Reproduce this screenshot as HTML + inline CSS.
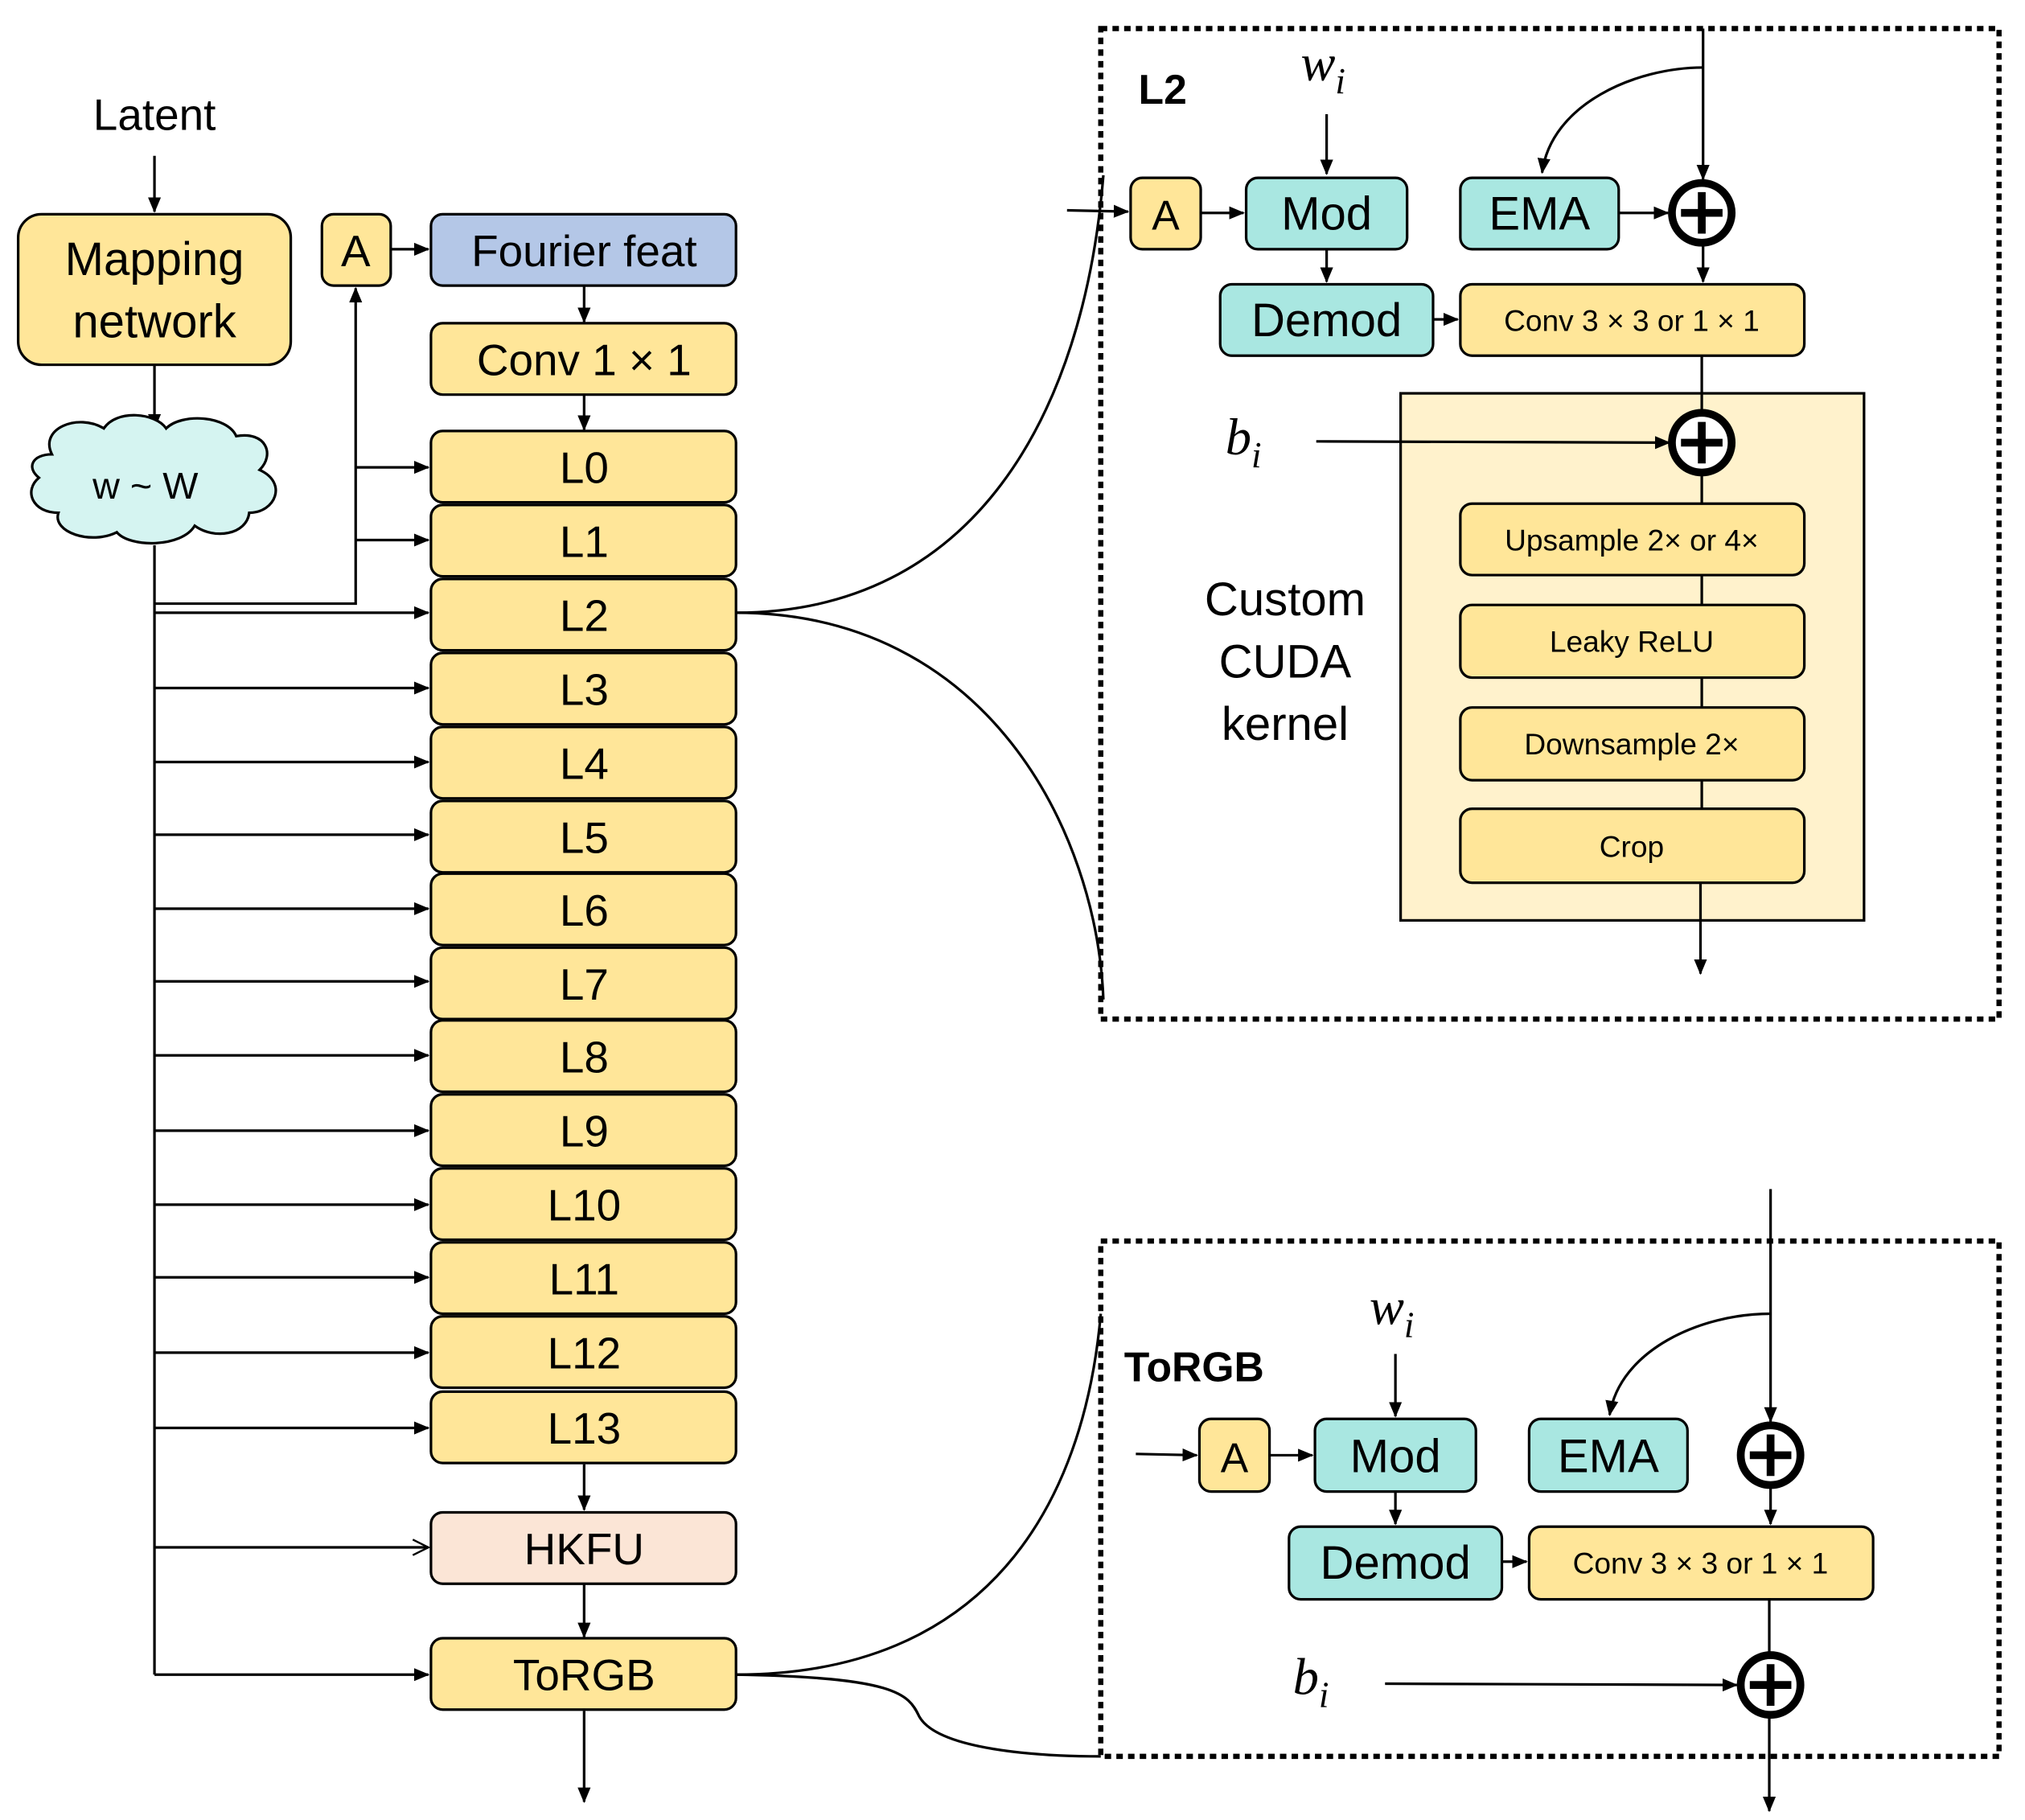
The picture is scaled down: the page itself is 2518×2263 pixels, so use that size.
<!DOCTYPE html>
<html><head><meta charset="utf-8"><style>
html,body{margin:0;padding:0;background:#fff;}
svg{display:block;}
text{font-family:"Liberation Sans",sans-serif;fill:#000;}
.s{font-family:"Liberation Serif",serif;font-style:italic;}
</style></head><body>
<svg width="2518" height="2263" viewBox="0 0 1560 1402" preserveAspectRatio="none" xmlns="http://www.w3.org/2000/svg">
<defs>
<marker id="a" markerUnits="userSpaceOnUse" markerWidth="12" markerHeight="12" refX="11" refY="6" orient="auto"><path d="M0,1 L12,6 L0,11 Z" fill="#000"/></marker>
<marker id="o" markerUnits="userSpaceOnUse" markerWidth="14" markerHeight="14" refX="13" refY="7" orient="auto"><path d="M1,1 L13,7 L1,13" fill="none" stroke="#000" stroke-width="1.5"/></marker>
</defs>
<g stroke="#000" stroke-width="2" fill="none">
<!-- left column arrows -->
<line x1="119" y1="120" x2="119" y2="163" marker-end="url(#a)"/>
<line x1="119" y1="281" x2="119" y2="330" marker-end="url(#a)"/>
<line x1="119" y1="420" x2="119" y2="1290"/>
<polyline points="119,465 274,465 274,222" marker-end="url(#a)"/>
<line x1="274" y1="360" x2="330" y2="360" marker-end="url(#a)"/>
<line x1="274" y1="416" x2="330" y2="416" marker-end="url(#a)"/>
<line x1="119" y1="472" x2="330" y2="472" marker-end="url(#a)"/>
<line x1="119" y1="530" x2="330" y2="530" marker-end="url(#a)"/>
<line x1="119" y1="587" x2="330" y2="587" marker-end="url(#a)"/>
<line x1="119" y1="643" x2="330" y2="643" marker-end="url(#a)"/>
<line x1="119" y1="700" x2="330" y2="700" marker-end="url(#a)"/>
<line x1="119" y1="756" x2="330" y2="756" marker-end="url(#a)"/>
<line x1="119" y1="813" x2="330" y2="813" marker-end="url(#a)"/>
<line x1="119" y1="871" x2="330" y2="871" marker-end="url(#a)"/>
<line x1="119" y1="928" x2="330" y2="928" marker-end="url(#a)"/>
<line x1="119" y1="984" x2="330" y2="984" marker-end="url(#a)"/>
<line x1="119" y1="1042" x2="330" y2="1042" marker-end="url(#a)"/>
<line x1="119" y1="1100" x2="330" y2="1100" marker-end="url(#a)"/>
<line x1="119" y1="1192" x2="330" y2="1192" marker-end="url(#o)"/>
<line x1="119" y1="1290" x2="330" y2="1290" marker-end="url(#a)"/>
<line x1="301" y1="192" x2="330" y2="192" marker-end="url(#a)"/>
<line x1="450" y1="220" x2="450" y2="248" marker-end="url(#a)"/>
<line x1="450" y1="304" x2="450" y2="331" marker-end="url(#a)"/>
<line x1="450" y1="1128" x2="450" y2="1163" marker-end="url(#a)"/>
<line x1="450" y1="1220" x2="450" y2="1261" marker-end="url(#a)"/>
<line x1="450" y1="1318" x2="450" y2="1388" marker-end="url(#a)"/>
<!-- curves -->
<path d="M567,472 C750,472 835,320 850,135"/>
<path d="M567,472 C760,472 845,640 850,770"/>
<path d="M567,1290 C760,1290 835,1160 848,1012"/>
<path d="M567,1290 C690,1292 700,1305 708,1322 C722,1348 800,1353 848,1353"/>
</g>
<!-- left boxes -->
<g stroke="#000" stroke-width="2">
<rect x="14" y="165" width="210" height="116" rx="18" fill="#FFE699"/>
<rect x="248" y="165" width="53" height="55" rx="9" fill="#FFE699"/>
<rect x="332" y="165" width="235" height="55" rx="9" fill="#B4C7E7"/>
<rect x="332" y="249" width="235" height="55" rx="9" fill="#FFE699"/>
<rect x="332" y="332" width="235" height="55" rx="9" fill="#FFE699"/>
<rect x="332" y="389" width="235" height="55" rx="9" fill="#FFE699"/>
<rect x="332" y="446" width="235" height="55" rx="9" fill="#FFE699"/>
<rect x="332" y="503" width="235" height="55" rx="9" fill="#FFE699"/>
<rect x="332" y="560" width="235" height="55" rx="9" fill="#FFE699"/>
<rect x="332" y="617" width="235" height="55" rx="9" fill="#FFE699"/>
<rect x="332" y="673" width="235" height="55" rx="9" fill="#FFE699"/>
<rect x="332" y="730" width="235" height="55" rx="9" fill="#FFE699"/>
<rect x="332" y="786" width="235" height="55" rx="9" fill="#FFE699"/>
<rect x="332" y="843" width="235" height="55" rx="9" fill="#FFE699"/>
<rect x="332" y="900" width="235" height="55" rx="9" fill="#FFE699"/>
<rect x="332" y="957" width="235" height="55" rx="9" fill="#FFE699"/>
<rect x="332" y="1014" width="235" height="55" rx="9" fill="#FFE699"/>
<rect x="332" y="1072" width="235" height="55" rx="9" fill="#FFE699"/>
<rect x="332" y="1165" width="235" height="55" rx="9" fill="#FBE5D6"/>
<rect x="332" y="1262" width="235" height="55" rx="9" fill="#FFE699"/>
<!-- cloud -->
<path fill="#D5F4F1" d="M40,350 C30,330 60,318 80,330 C90,315 120,318 128,330 C140,318 175,320 182,336 C205,332 212,350 200,362 C222,372 212,395 192,395 C190,412 165,416 150,405 C140,422 100,422 90,410 C70,420 40,410 45,395 C25,395 18,378 30,368 C20,360 25,350 40,350 Z"/>
</g>
<g text-anchor="middle" font-size="34">
<text x="119" y="100">Latent</text>
<text x="119" y="212" font-size="36">Mapping</text>
<text x="119" y="260" font-size="36">network</text>
<text x="112" y="384" font-size="29">w ~ W</text>
<text x="274" y="205">A</text>
<text x="450" y="205">Fourier feat</text>
<text x="450" y="289">Conv 1 × 1</text>
<text x="450" y="372">L0</text>
<text x="450" y="429">L1</text>
<text x="450" y="486">L2</text>
<text x="450" y="543">L3</text>
<text x="450" y="600">L4</text>
<text x="450" y="657">L5</text>
<text x="450" y="713">L6</text>
<text x="450" y="770">L7</text>
<text x="450" y="826">L8</text>
<text x="450" y="883">L9</text>
<text x="450" y="940">L10</text>
<text x="450" y="997">L11</text>
<text x="450" y="1054">L12</text>
<text x="450" y="1112">L13</text>
<text x="450" y="1205">HKFU</text>
<text x="450" y="1302">ToRGB</text>
</g>

<!-- top right panel -->
<rect x="1079" y="303" width="357" height="406" fill="#FFF2CC" stroke="#000" stroke-width="2"/>
<rect x="848" y="22" width="692" height="763" fill="none" stroke="#000" stroke-width="4" stroke-dasharray="5 4"/>
<g stroke="#000" stroke-width="2" fill="none">
<line x1="1022" y1="88" x2="1022" y2="134" marker-end="url(#a)"/>
<line x1="822" y1="162" x2="869" y2="163" marker-end="url(#a)"/>
<line x1="925" y1="164" x2="958" y2="164" marker-end="url(#a)"/>
<line x1="1022" y1="192" x2="1022" y2="217" marker-end="url(#a)"/>
<line x1="1104" y1="246" x2="1123" y2="246" marker-end="url(#a)"/>
<line x1="1247" y1="164" x2="1285" y2="164" marker-end="url(#a)"/>
<line x1="1312" y1="22" x2="1312" y2="138" marker-end="url(#a)"/>
<path d="M1312,52 C1260,52 1195,80 1188,133" marker-end="url(#a)"/>
<line x1="1312" y1="188" x2="1312" y2="217" marker-end="url(#a)"/>
<line x1="1311" y1="274" x2="1311" y2="318"/>
<line x1="1014" y1="340" x2="1286" y2="341" marker-end="url(#a)"/>
<line x1="1311" y1="365" x2="1311" y2="388"/>
<line x1="1311" y1="443" x2="1311" y2="466"/>
<line x1="1311" y1="522" x2="1311" y2="545"/>
<line x1="1311" y1="601" x2="1311" y2="623"/>
<line x1="1310" y1="680" x2="1310" y2="750" marker-end="url(#a)"/>
</g>
<g stroke="#000" stroke-width="2">
<rect x="871" y="137" width="54" height="55" rx="9" fill="#FFE699"/>
<rect x="960" y="137" width="124" height="55" rx="9" fill="#A9E7E1"/>
<rect x="940" y="219" width="164" height="55" rx="9" fill="#A9E7E1"/>
<rect x="1125" y="137" width="122" height="55" rx="9" fill="#A9E7E1"/>
<rect x="1125" y="219" width="265" height="55" rx="9" fill="#FFE699"/>
<rect x="1125" y="388" width="265" height="55" rx="9" fill="#FFE699"/>
<rect x="1125" y="466" width="265" height="56" rx="9" fill="#FFE699"/>
<rect x="1125" y="545" width="265" height="56" rx="9" fill="#FFE699"/>
<rect x="1125" y="623" width="265" height="57" rx="9" fill="#FFE699"/>
</g>
<g stroke="#000" stroke-width="6" fill="#fff">
<circle cx="1311" cy="164" r="23"/>
<circle cx="1311" cy="341" r="23"/>
</g>
<g stroke="#000" stroke-width="6">
<line x1="1295" y1="164" x2="1327" y2="164"/><line x1="1311" y1="148" x2="1311" y2="180"/>
<line x1="1295" y1="341" x2="1327" y2="341"/><line x1="1311" y1="325" x2="1311" y2="357"/>
</g>
<text x="877" y="80" font-size="32" font-weight="bold">L2</text>
<text x="1002" y="62" font-size="40" class="s">w<tspan font-size="28" dy="10">i</tspan></text>
<text x="944" y="350" font-size="40" class="s">b<tspan font-size="28" dy="10">i</tspan></text>
<g text-anchor="middle" font-size="36">
<text x="898" y="177" font-size="32">A</text>
<text x="1022" y="177">Mod</text>
<text x="1022" y="259">Demod</text>
<text x="1186" y="177">EMA</text>
<text x="1257" y="255" font-size="23">Conv 3 × 3 or 1 × 1</text>
<text x="1257" y="424" font-size="23">Upsample 2× or 4×</text>
<text x="1257" y="502" font-size="23">Leaky ReLU</text>
<text x="1257" y="581" font-size="23">Downsample 2×</text>
<text x="1257" y="660" font-size="23">Crop</text>
<text x="990" y="474">Custom</text>
<text x="990" y="522">CUDA</text>
<text x="990" y="570">kernel</text>
</g>

<!-- bottom right panel -->
<rect x="848" y="956" width="692" height="397" fill="none" stroke="#000" stroke-width="4" stroke-dasharray="5 4"/>
<g stroke="#000" stroke-width="2" fill="none">
<line x1="1075" y1="1043" x2="1075" y2="1091" marker-end="url(#a)"/>
<line x1="875" y1="1120" x2="922" y2="1121" marker-end="url(#a)"/>
<line x1="978" y1="1121" x2="1011" y2="1121" marker-end="url(#a)"/>
<line x1="1075" y1="1149" x2="1075" y2="1174" marker-end="url(#a)"/>
<line x1="1157" y1="1203" x2="1176" y2="1203" marker-end="url(#a)"/>
<line x1="1364" y1="916" x2="1364" y2="1095" marker-end="url(#a)"/>
<path d="M1364,1012 C1310,1012 1248,1040 1240,1090" marker-end="url(#a)"/>
<line x1="1364" y1="1146" x2="1364" y2="1174" marker-end="url(#a)"/>
<line x1="1363" y1="1232" x2="1363" y2="1274"/>
<line x1="1067" y1="1297" x2="1338" y2="1298" marker-end="url(#a)"/>
<line x1="1363" y1="1322" x2="1363" y2="1395" marker-end="url(#a)"/>
</g>
<g stroke="#000" stroke-width="2">
<rect x="924" y="1093" width="54" height="56" rx="9" fill="#FFE699"/>
<rect x="1013" y="1093" width="124" height="56" rx="9" fill="#A9E7E1"/>
<rect x="1178" y="1093" width="122" height="56" rx="9" fill="#A9E7E1"/>
<rect x="993" y="1176" width="164" height="56" rx="9" fill="#A9E7E1"/>
<rect x="1178" y="1176" width="265" height="56" rx="9" fill="#FFE699"/>
</g>
<g stroke="#000" stroke-width="6" fill="#fff">
<circle cx="1364" cy="1121" r="23"/>
<circle cx="1364" cy="1298" r="23"/>
</g>
<g stroke="#000" stroke-width="6">
<line x1="1348" y1="1121" x2="1380" y2="1121"/><line x1="1364" y1="1105" x2="1364" y2="1137"/>
<line x1="1348" y1="1298" x2="1380" y2="1298"/><line x1="1364" y1="1282" x2="1364" y2="1314"/>
</g>
<text x="866" y="1064" font-size="32" font-weight="bold">ToRGB</text>
<text x="1055" y="1020" font-size="40" class="s">w<tspan font-size="28" dy="10">i</tspan></text>
<text x="996" y="1305" font-size="40" class="s">b<tspan font-size="28" dy="10">i</tspan></text>
<g text-anchor="middle" font-size="36">
<text x="951" y="1134" font-size="32">A</text>
<text x="1075" y="1134">Mod</text>
<text x="1239" y="1134">EMA</text>
<text x="1075" y="1216">Demod</text>
<text x="1310" y="1212" font-size="23">Conv 3 × 3 or 1 × 1</text>
</g>
</svg>
</body></html>
